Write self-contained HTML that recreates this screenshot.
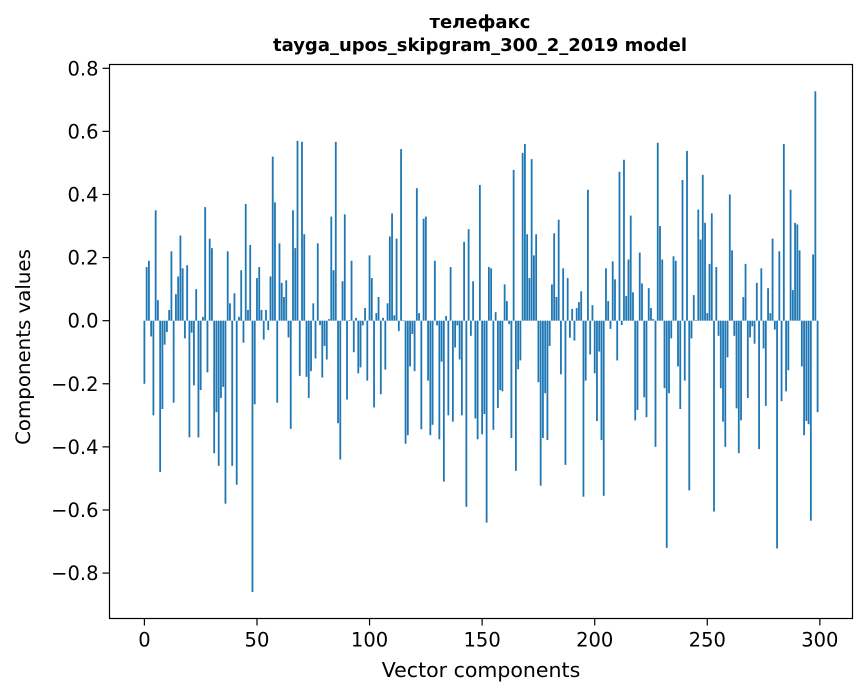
<!DOCTYPE html>
<html><head><meta charset="utf-8"><style>
html,body{margin:0;padding:0;background:#fff;}
svg{display:block;font-family:"DejaVu Sans","Liberation Sans",sans-serif;}
</style></head><body>
<svg id="chart" width="867" height="696" viewBox="0 0 867 696" xmlns="http://www.w3.org/2000/svg">
<rect x="0" y="0" width="867" height="696" fill="#fff"/>
<text x="480" y="28" text-anchor="middle" font-size="18" font-weight="bold">телефакс</text>
<text x="480" y="51" text-anchor="middle" font-size="18" font-weight="bold">tayga_upos_skipgram_300_2_2019 model</text>
<g id="bars"></g>
<g id="xticks"></g>
<g id="yticks"></g>
<rect x="109.5" y="64.5" width="743" height="554" fill="none" stroke="#000" stroke-width="1.2"/>
<text x="481" y="677" text-anchor="middle" font-size="20.5">Vector components</text>
<text x="30" y="347" text-anchor="middle" font-size="19.8" transform="rotate(-90 30 347)">Components values</text>
</svg>
<script>
const values = [
-0.20,0.17,0.19,-0.05,-0.30,0.35,0.065,-0.48,-0.28,-0.076,
-0.036,0.034,0.22,-0.26,0.084,0.14,0.27,0.166,-0.056,0.176,
-0.37,-0.038,-0.205,0.10,-0.37,-0.22,0.012,0.36,-0.164,0.26,
0.23,-0.42,-0.29,-0.46,-0.245,-0.21,-0.58,0.22,0.055,-0.46,
0.087,-0.52,0.012,0.16,-0.07,0.37,0.034,0.24,-0.86,-0.265,
0.135,0.17,0.034,-0.06,0.034,-0.03,0.14,0.52,0.375,-0.26,
0.245,0.12,0.075,0.128,-0.053,-0.343,0.35,0.23,0.57,-0.175,
0.567,0.274,-0.178,-0.245,-0.16,0.055,-0.12,0.245,-0.014,-0.18,
-0.08,-0.123,0.005,0.33,0.16,0.567,-0.325,-0.44,0.125,0.337,
-0.25,0.002,0.19,-0.10,0.009,-0.167,-0.148,-0.015,0.04,-0.19,
0.207,0.135,-0.275,0.024,0.075,-0.233,0.009,-0.155,0.055,0.267,
0.34,0.017,0.26,-0.033,0.544,0.002,-0.39,-0.363,-0.145,-0.042,
-0.16,0.42,0.024,-0.344,0.323,0.33,-0.19,-0.363,-0.33,0.19,
-0.015,-0.376,-0.13,-0.51,0.015,-0.30,0.17,-0.32,-0.085,-0.015,
-0.123,-0.30,0.25,-0.59,0.29,-0.048,0.125,-0.31,-0.376,0.43,
-0.36,-0.296,-0.64,0.17,0.166,-0.346,0.027,-0.277,-0.22,-0.224,
0.115,0.062,-0.011,-0.372,0.478,-0.476,-0.154,-0.126,0.532,0.56,
0.274,0.135,0.512,0.207,0.274,-0.195,-0.523,-0.372,-0.23,-0.378,
-0.08,0.115,0.277,0.075,0.32,-0.17,0.166,-0.457,0.135,-0.054,
0.037,-0.063,0.04,0.059,0.093,-0.558,-0.19,0.415,-0.107,0.049,
-0.167,-0.318,-0.098,-0.378,-0.555,0.166,0.062,-0.026,0.188,0.131,
-0.126,0.472,-0.014,0.51,0.078,0.194,0.333,0.09,-0.316,-0.283,
0.216,0.118,-0.243,-0.306,0.103,0.04,0.005,-0.40,0.564,0.30,
0.194,-0.214,-0.72,-0.23,-0.056,0.204,0.19,-0.145,-0.28,0.446,
-0.19,0.538,-0.538,-0.056,0.081,0.002,0.352,0.257,0.462,0.31,
0.024,0.18,0.34,-0.605,0.17,-0.048,-0.214,-0.32,-0.40,-0.116,
0.40,0.223,-0.048,-0.278,-0.42,-0.316,0.075,0.18,-0.245,-0.053,
-0.018,-0.073,0.12,-0.407,0.166,-0.088,-0.27,0.103,0.024,0.26,
-0.028,-0.722,0.22,-0.255,0.56,-0.224,-0.157,0.415,0.097,0.31,
0.305,0.223,-0.145,-0.363,-0.318,-0.328,-0.634,0.21,0.727,-0.29
];
const xTickValues = [0,50,100,150,200,250,300];
const xTickLabels = ["0","50","100","150","200","250","300"];
const yTickValues = [-0.8,-0.6,-0.4,-0.2,0.0,0.2,0.4,0.6,0.8];
const yTickLabels = ["\u22120.8","\u22120.6","\u22120.4","\u22120.2","0.0","0.2","0.4","0.6","0.8"];

const NS = "http://www.w3.org/2000/svg";
const plot = {left:109.5, right:852.5, top:64.5, bottom:618.5};
const xMin = -15.5, xMax = 314.5, yMin = -0.944, yMax = 0.812;
function xScale(v){ return plot.left + (v - xMin) / (xMax - xMin) * (plot.right - plot.left); }
function yScale(v){ return plot.top + (yMax - v) / (yMax - yMin) * (plot.bottom - plot.top); }

const barsG = document.getElementById('bars');
const bw = 0.8;
values.forEach((v, i) => {
  const r = document.createElementNS(NS, 'rect');
  const x0 = xScale(i - bw/2), x1 = xScale(i + bw/2);
  const y0 = yScale(Math.max(v, 0)), y1 = yScale(Math.min(v, 0));
  r.setAttribute('x', x0);
  r.setAttribute('y', y0);
  r.setAttribute('width', x1 - x0);
  r.setAttribute('height', Math.max(y1 - y0, 0.01));
  r.setAttribute('fill', '#1f77b4');
  
  
  barsG.appendChild(r);
});

const xg = document.getElementById('xticks');
xTickValues.forEach((t, k) => {
  const x = xScale(t);
  const l = document.createElementNS(NS, 'line');
  l.setAttribute('x1', x); l.setAttribute('x2', x);
  l.setAttribute('y1', plot.bottom); l.setAttribute('y2', plot.bottom + 7);
  l.setAttribute('stroke', '#000'); l.setAttribute('stroke-width', '1.2');
  
  
  xg.appendChild(l);
  const tx = document.createElementNS(NS, 'text');
  tx.setAttribute('x', x); tx.setAttribute('y', plot.bottom + 28);
  tx.setAttribute('text-anchor', 'middle'); tx.setAttribute('font-size', '19.5');
  tx.textContent = xTickLabels[k];
  
  
  xg.appendChild(tx);
});

const yg = document.getElementById('yticks');
yTickValues.forEach((t, k) => {
  const y = yScale(t);
  const l = document.createElementNS(NS, 'line');
  l.setAttribute('x1', plot.left - 7); l.setAttribute('x2', plot.left);
  l.setAttribute('y1', y); l.setAttribute('y2', y);
  l.setAttribute('stroke', '#000'); l.setAttribute('stroke-width', '1.2');
  
  
  yg.appendChild(l);
  const tx = document.createElementNS(NS, 'text');
  tx.setAttribute('x', plot.left - 11); tx.setAttribute('y', y + 7);
  tx.setAttribute('text-anchor', 'end'); tx.setAttribute('font-size', '19.5');
  tx.textContent = yTickLabels[k];
  
  
  yg.appendChild(tx);
});
</script>
</body></html>
